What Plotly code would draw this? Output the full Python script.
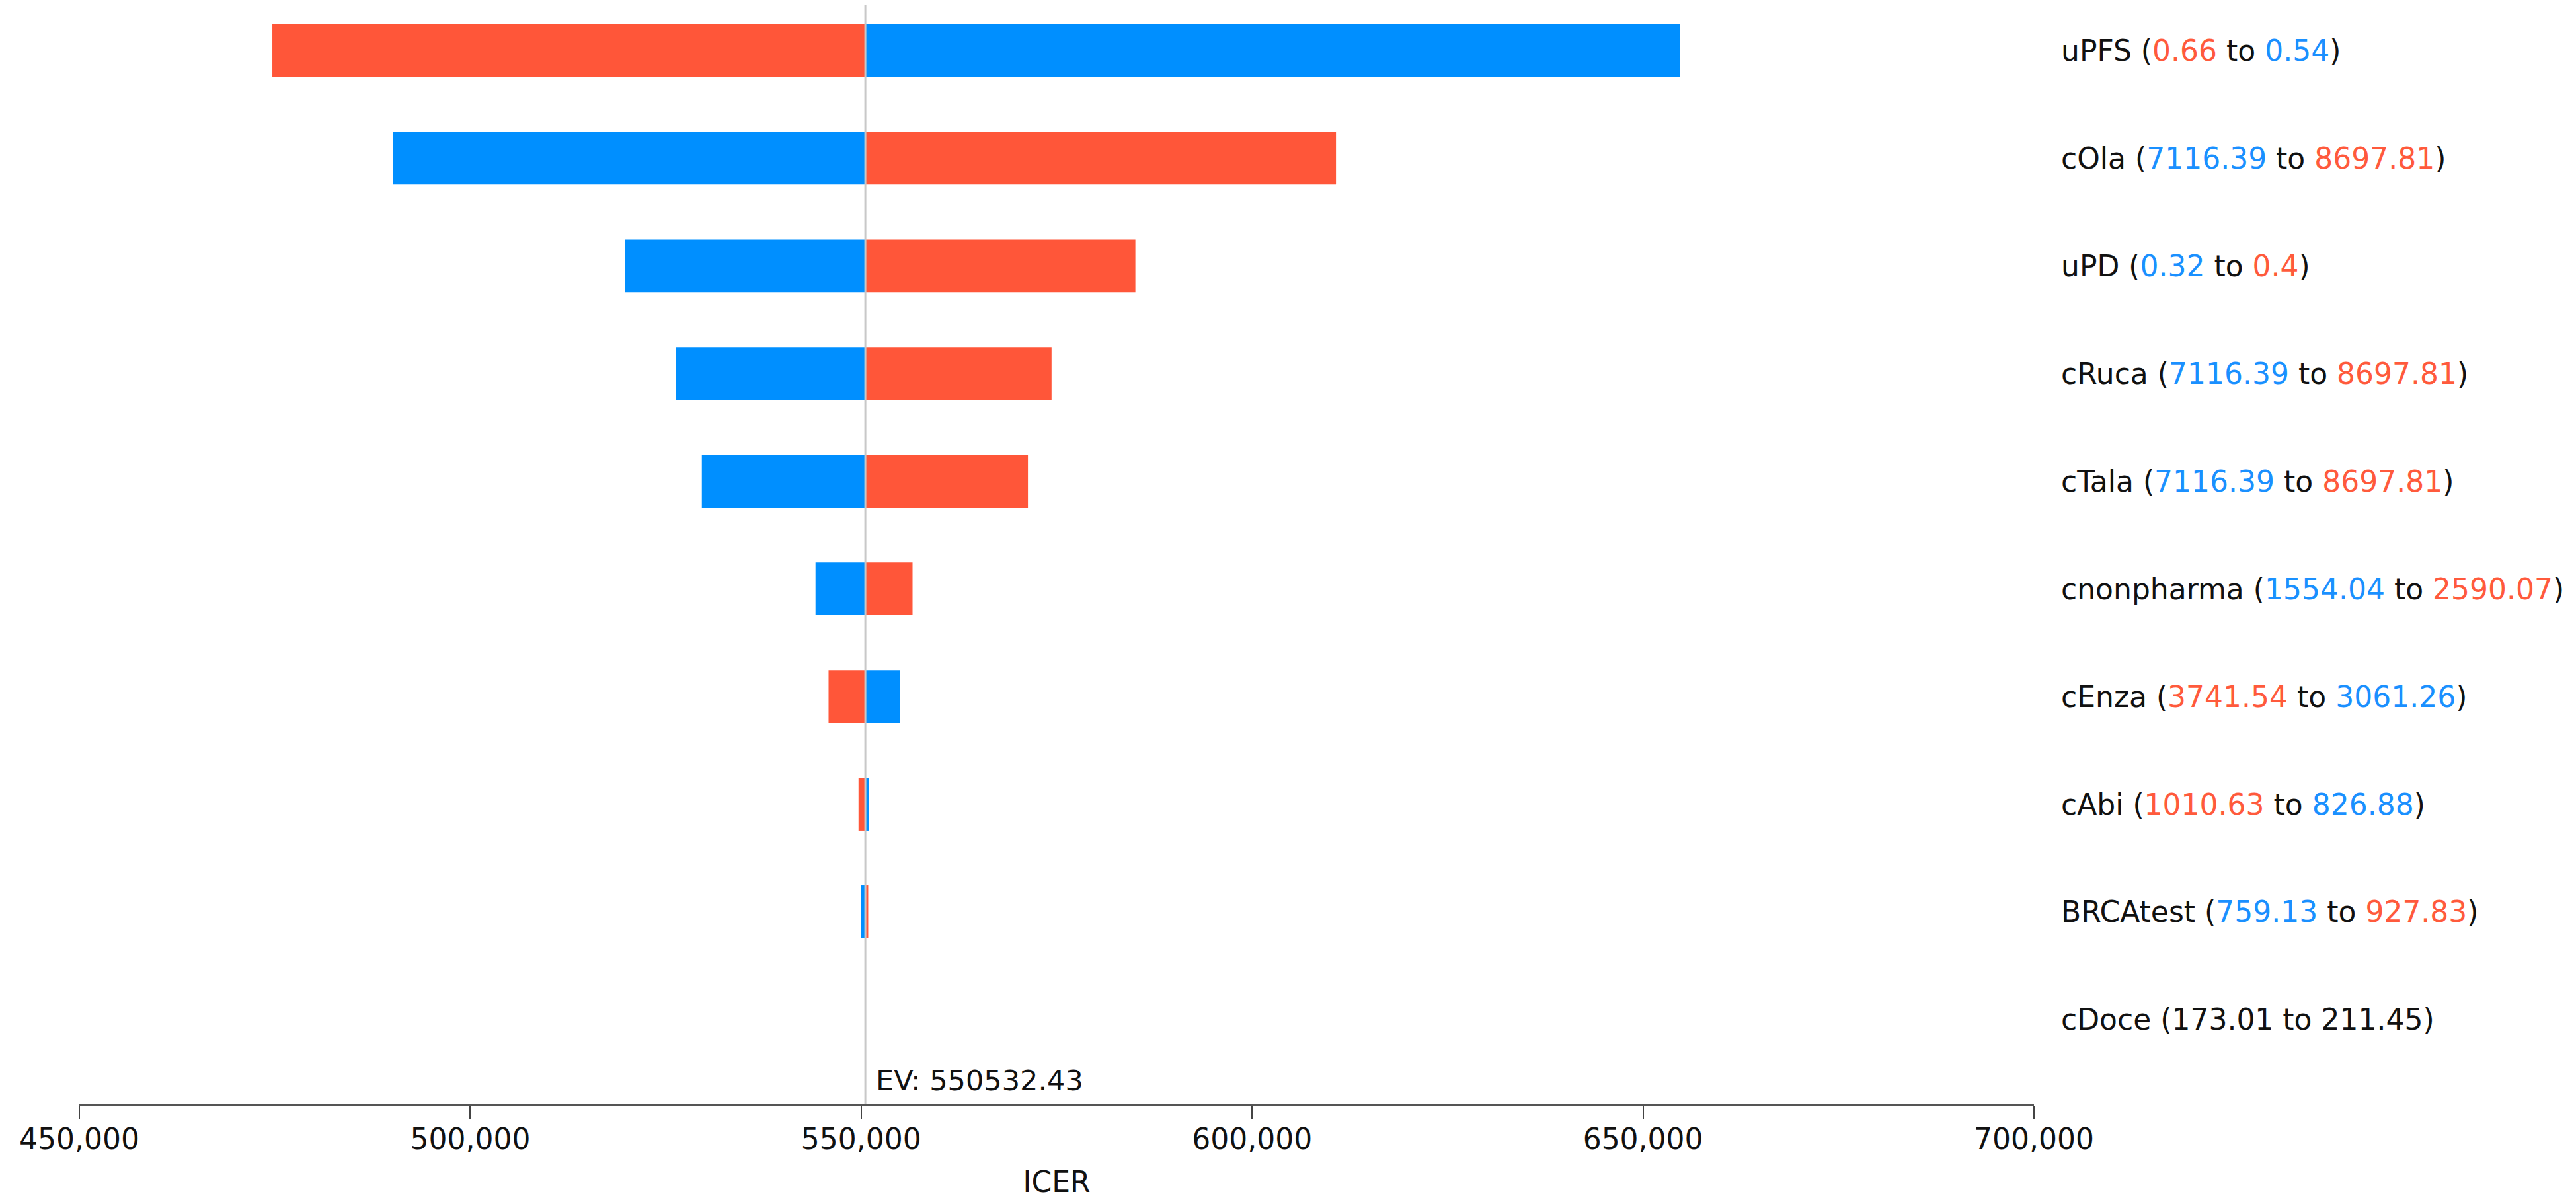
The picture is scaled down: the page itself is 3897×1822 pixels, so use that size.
import plotly.graph_objects as go

# ---- data ----
parameters = ["uPFS", "cOla", "uPD", "cRuca", "cTala", "cnonpharma", "cEnza", "cAbi", "BRCAtest", "cDoce"]
param_low_text = ["0.66", "7116.39", "0.32", "7116.39", "7116.39", "1554.04", "3741.54", "1010.63", "759.13", "173.01"]
param_high_text = ["0.54", "8697.81", "0.4", "8697.81", "8697.81", "2590.07", "3061.26", "826.88", "927.83", "211.45"]
# colour of each range end: "r" = red (upper input value), "b" = blue (lower input value), "k" = black
low_text_color = ["r", "b", "b", "b", "b", "b", "r", "r", "b", "k"]
high_text_color = ["b", "r", "r", "r", "r", "r", "b", "b", "r", "k"]

ev = 550532.43
# ICER when the parameter takes its lower (blue) / upper (red) value
icer_blue = [654700, 490080, 519750, 526320, 529620, 544160, 554980, 551020, 550000, ev]
icer_red = [474690, 610730, 585070, 574350, 571330, 556570, 545830, 549660, 550900, ev]

x_ticks = [450000, 500000, 550000, 600000, 650000, 700000]

RED = "#FF5639"
BLUE = "#008FFF"
RED_TXT = "#FF5A3C"
BLUE_TXT = "#1A90FF"
cmap = {"r": RED_TXT, "b": BLUE_TXT, "k": "#111111"}

ypos = list(range(len(parameters)))

fig = go.Figure()
fig.add_trace(go.Bar(
    y=ypos, x=[v - ev for v in icer_blue], base=ev, orientation="h",
    marker=dict(color=BLUE, line=dict(width=0)), width=0.49, name="low", showlegend=False,
))
fig.add_trace(go.Bar(
    y=ypos, x=[v - ev for v in icer_red], base=ev, orientation="h",
    marker=dict(color=RED, line=dict(width=0)), width=0.49, name="high", showlegend=False,
))

FONT = "DejaVu Sans"
FS = 44

for i, p in enumerate(parameters):
    lc = cmap[low_text_color[i]]
    hc = cmap[high_text_color[i]]
    txt = (f"{p} (<span style='color:{lc}'>{param_low_text[i]}</span> to "
           f"<span style='color:{hc}'>{param_high_text[i]}</span>)")
    fig.add_annotation(
        x=1, xref="paper", xshift=39, y=i, yref="y", text=txt, showarrow=False,
        xanchor="left", yanchor="middle", font=dict(family=FONT, size=FS, color="#111111"),
    )

fig.add_shape(type="line", x0=ev, x1=ev, xref="x", y0=0, y1=1, yref="paper",
              line=dict(color="#C8C8C8", width=3), layer="above")

fig.add_annotation(
    x=ev, xref="x", y=0, yref="paper", text=f"EV: {ev:.2f}", showarrow=False,
    xanchor="left", yanchor="bottom", xshift=14, yshift=8,
    font=dict(family=FONT, size=FS - 1, color="#111111"),
)

fig.update_layout(
    width=3897, height=1822,
    margin=dict(l=112, r=828, t=0, b=160),
    plot_bgcolor="white", paper_bgcolor="white",
    barmode="overlay",
    font=dict(family=FONT, size=FS, color="#111111"),
    xaxis=dict(
        range=[450000, 700000], tickvals=x_ticks, tickformat=",",
        showgrid=False, zeroline=False,
        showline=True, linecolor="#555555", linewidth=4,
        ticks="outside", ticklen=20, tickwidth=2, tickcolor="#444444",
        ticklabelstandoff=-8,
        tickfont=dict(family=FONT, size=FS, color="#111111"),
        title=dict(text="ICER", font=dict(family=FONT, size=FS, color="#111111"), standoff=26),
    ),
    yaxis=dict(
        range=[9.78, -0.42], showgrid=False, zeroline=False, showline=False,
        showticklabels=False, ticks="",
    ),
)

fig.write_html("out.html")
